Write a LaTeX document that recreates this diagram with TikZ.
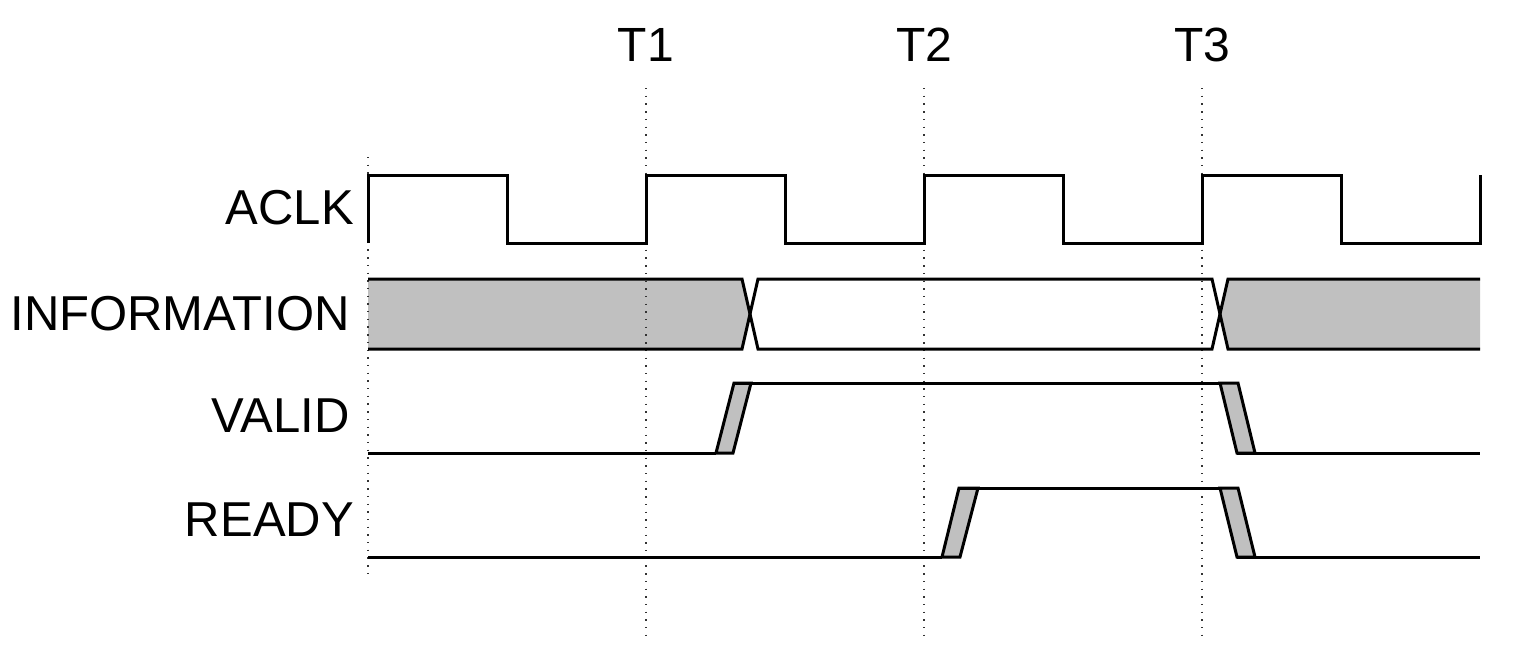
\documentclass[tikz,border=0pt]{standalone}
\usepackage{fontspec}
\setmainfont{Liberation Sans}
\definecolor{siggray}{RGB}{192,192,192}
\begin{document}
\begin{tikzpicture}[x=1pt,y=-1pt,
  wave/.style={line width=3pt,line join=miter,line cap=butt},
  slot/.style={fill=siggray,draw=none},
  edge/.style={fill=siggray,line width=3pt,line join=miter},
  tick/.style={line width=1.4pt,dash pattern=on 1.4pt off 6.3pt,black!80},
  lbl/.style={font=\fontsize{49}{57}\selectfont,anchor=east,inner sep=0pt},
  tlbl/.style={font=\fontsize{48}{56}\selectfont,anchor=center,inner sep=0pt}]
\useasboundingbox (0,0) rectangle (1524,657);
% signal names
\node[lbl] (aclk) at (354,208) {ACLK};
\node[lbl] (info) at (350,314) {INFORMATION};
\node[lbl] (valid) at (350,416) {VALID};
\node[lbl] (ready) at (354,520) {READY};
% time labels
\node[tlbl] (t1) at (646,45) {T1};
\node[tlbl] (t2) at (924,45) {T2};
\node[tlbl] (t3) at (1202,45) {T3};
% information gray fills
\fill[slot] (368,279) -- (742,279) -- (750,314) -- (742,349) -- (368,349) -- cycle;
\fill[slot] (1480,279) -- (1228,279) -- (1220,314) -- (1228,349) -- (1480,349) -- cycle;
% dotted time markers
\draw[tick] (368,157) -- (368,575);
\draw[tick] (646,88) -- (646,642);
\draw[tick] (924,88) -- (924,642);
\draw[tick] (1202,88) -- (1202,642);
% clock
\draw[wave] (368,243) -- (368,175) -- (507,175) -- (507,243) -- (646,243) -- (646,175)
  -- (785,175) -- (785,243) -- (924,243) -- (924,175) -- (1063,175) -- (1063,243)
  -- (1202,243) -- (1202,175) -- (1341,175) -- (1341,243) -- (1480,243) -- (1480,175);
% information strokes
\draw[wave] (368,279) -- (742,279) -- (758,349) -- (1212,349) -- (1228,279) -- (1480,279);
\draw[wave] (368,349) -- (742,349) -- (758,279) -- (1212,279) -- (1228,349) -- (1480,349);
% valid
\draw[wave] (368,453) -- (716,453);
\draw[edge] (716,453) -- (733,453) -- (751,383) -- (734,383) -- cycle;
\draw[wave] (734,383) -- (1220,383);
\draw[edge] (1220,383) -- (1238,383) -- (1255,453) -- (1237,453) -- cycle;
\draw[wave] (1237,453) -- (1480,453);
% ready
\draw[wave] (368,557) -- (942,557);
\draw[edge] (942,557) -- (960,557) -- (978,488) -- (959,488) -- cycle;
\draw[wave] (959,488) -- (1220,488);
\draw[edge] (1220,488) -- (1238,488) -- (1255,557) -- (1237,557) -- cycle;
\draw[wave] (1237,557) -- (1480,557);
\end{tikzpicture}
\end{document}
